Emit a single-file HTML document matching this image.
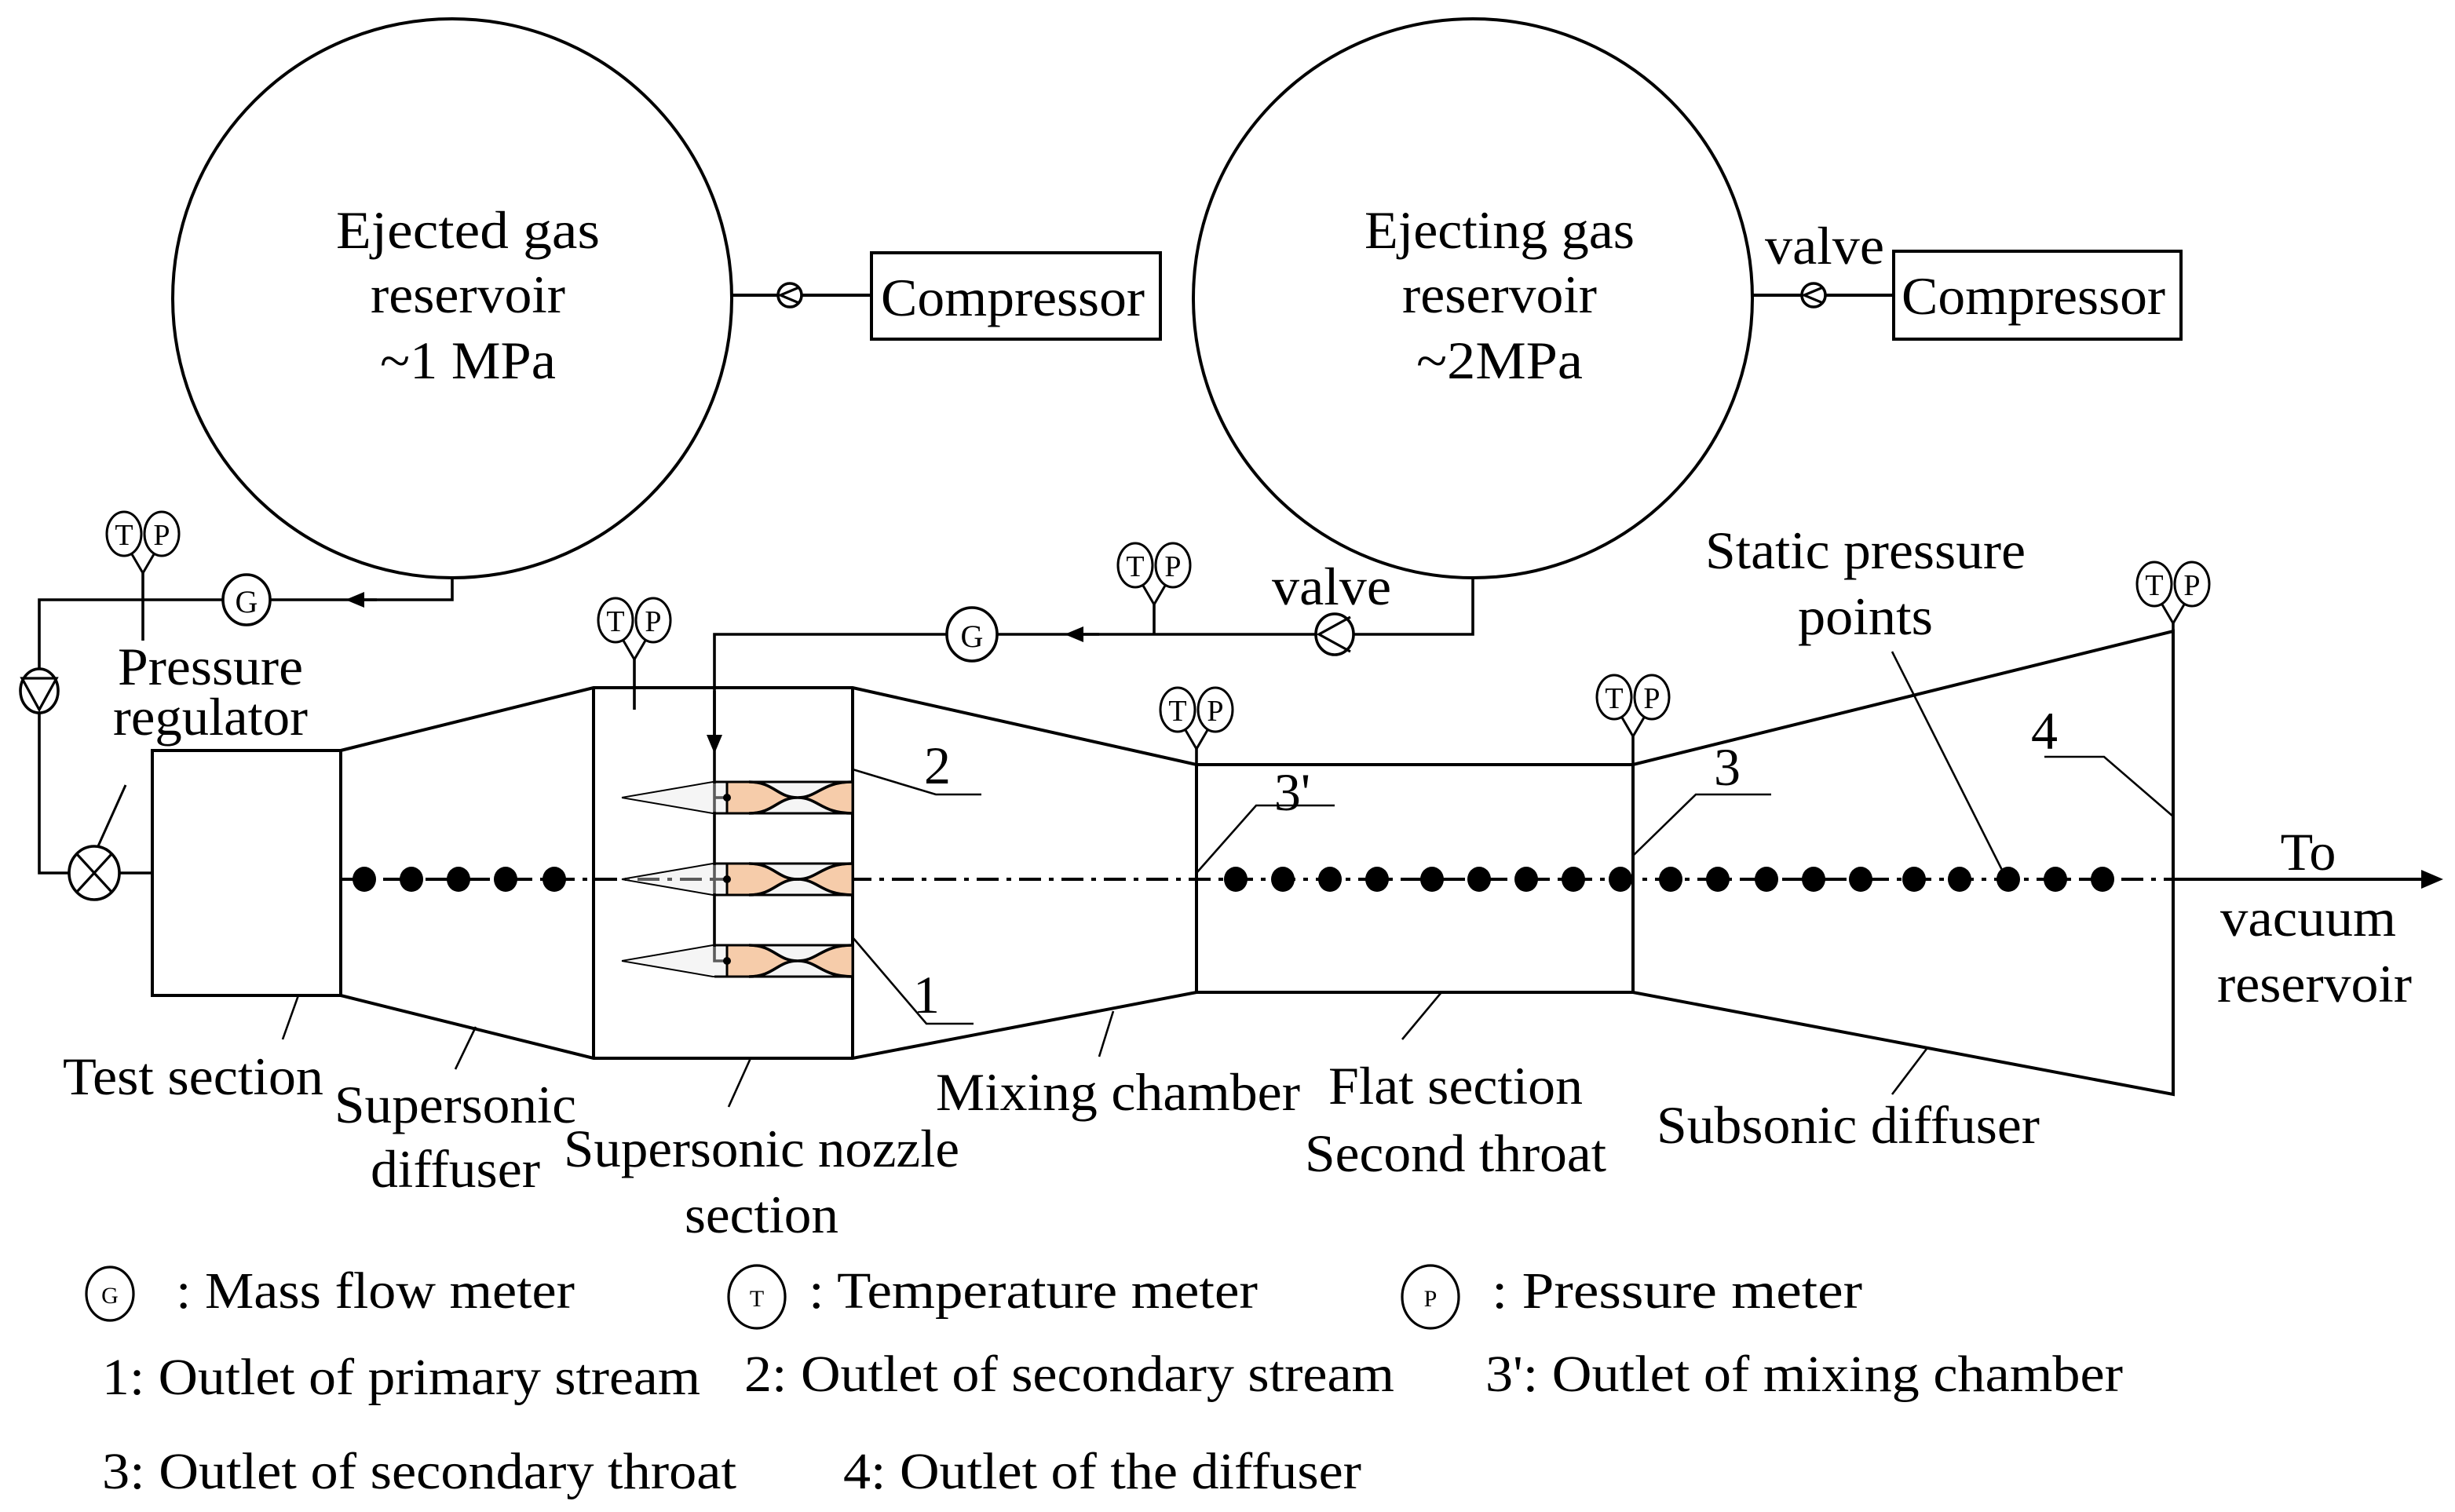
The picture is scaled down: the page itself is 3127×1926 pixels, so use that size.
<!DOCTYPE html>
<html><head><meta charset="utf-8"><style>
html,body{margin:0;padding:0;background:#fff}
svg{display:block}
text{font-family:"Liberation Serif",serif;fill:#000}
</style></head><body>
<svg width="3127" height="1926" viewBox="0 0 1563.5 963" xmlns="http://www.w3.org/2000/svg">
<defs>
<marker id="al" markerWidth="12" markerHeight="12" refX="6" refY="5" orient="auto" markerUnits="userSpaceOnUse"><path d="M12,5 L0,0 L0,10 z" fill="#000"/></marker>
<g id="tp"><ellipse cx="-12" cy="0" rx="11" ry="14" fill="#fff" stroke="#000" stroke-width="1.5"/><ellipse cx="12" cy="0" rx="11" ry="14" fill="#fff" stroke="#000" stroke-width="1.5"/><text x="-12" y="7" font-size="19" text-anchor="middle">T</text><text x="12" y="7" font-size="19" text-anchor="middle">P</text><path d="M-7,13 L0,25 L7,13" fill="none" stroke="#000" stroke-width="1.5"/></g>
<g id="nz">
<path d="M-67,0 L-9,-10 L0,-10 M-67,0 L-9,10 L0,10" fill="none" stroke="#000" stroke-width="1"/>
<path d="M-65,0 L-9,-9 L80,-9 L80,9 L-9,9 Z" fill="#e6e6e6" opacity="0.4"/>
<path d="M0,-10 L14,-10 C30,-10 32,0 45,0 C58,0 60,-10 80,-10 L80,10 C60,10 58,0 45,0 C32,0 30,10 14,10 L0,10 Z" fill="#f6ccaa" stroke="#000" stroke-width="1.5"/>
<path d="M14,-10 C30,-10 32,0 45,0 C58,0 60,-10 80,-10 M14,10 C30,10 32,0 45,0 C58,0 60,10 80,10" fill="none" stroke="#000" stroke-width="1.8"/>
<path d="M-8,-10 L80,-10 M-8,10 L80,10" stroke="#000" stroke-width="1.5"/>
<circle cx="0" cy="0" r="2.5" fill="#000"/>
</g>
</defs>
<g fill="none" stroke="#000" stroke-width="2">
<circle cx="288" cy="190" r="178"/>
<circle cx="938" cy="190" r="178"/>
<line x1="466" y1="188" x2="555" y2="188"/>
<rect x="555" y="161" width="184" height="55"/>
<line x1="1116" y1="188" x2="1206" y2="188"/>
<rect x="1206" y="160" width="183" height="56"/>
<polyline points="288,368 288,382 25,382 25,556 97,556" stroke-width="1.8"/>
<line x1="240" y1="382" x2="226" y2="382" marker-end="url(#al)" stroke-width="1.8"/>
<line x1="91" y1="365" x2="91" y2="408" stroke-width="1.8"/>
<line x1="62" y1="540" x2="80" y2="500" stroke-width="1.5"/>
<polyline points="938,368 938,404 455,404 455,612 462,612" stroke-width="1.8"/>
<line x1="700" y1="404" x2="684" y2="404" marker-end="url(#al)" stroke-width="1.8"/>
<line x1="455" y1="440" x2="455" y2="474" marker-end="url(#al)" stroke-width="1.8"/>
<line x1="735" y1="385" x2="735" y2="404" stroke-width="1.8"/>
<line x1="455" y1="508" x2="462" y2="508" stroke-width="1.8"/>
<line x1="455" y1="560" x2="462" y2="560" stroke-width="1.8"/>
<rect x="97" y="478" width="120" height="156"/>
<polyline points="217,478 378,438 543,438 762,487 1040,487 1384,402 1384,697 1040,632 762,632 543,674 378,674 217,634"/>
<line x1="378" y1="438" x2="378" y2="674"/>
<line x1="543" y1="438" x2="543" y2="674"/>
<line x1="762" y1="487" x2="762" y2="632"/>
<line x1="1040" y1="487" x2="1040" y2="632"/>
<line x1="404" y1="420" x2="404" y2="452" stroke-width="1.8"/>
<line x1="762" y1="477" x2="762" y2="497" stroke-width="1.8"/>
<line x1="1040" y1="469" x2="1040" y2="487" stroke-width="1.8"/>
<line x1="1384" y1="397" x2="1384" y2="402" stroke-width="1.8"/>
</g>
<line x1="217" y1="560" x2="1545" y2="560" stroke="#000" stroke-width="2" stroke-dasharray="14,5,3,5"/>
<line x1="1384" y1="560" x2="1545" y2="560" stroke="#000" stroke-width="2"/>
<path d="M1556,560 L1542,554 L1542,566 Z" fill="#000"/>
<use href="#nz" x="463" y="508"/>
<use href="#nz" x="463" y="560"/>
<use href="#nz" x="463" y="612"/>
<g fill="#000">
<ellipse cx="232" cy="560" rx="7.5" ry="8"/><ellipse cx="262" cy="560" rx="7.5" ry="8"/><ellipse cx="292" cy="560" rx="7.5" ry="8"/><ellipse cx="322" cy="560" rx="7.5" ry="8"/><ellipse cx="353" cy="560" rx="7.5" ry="8"/>
<ellipse cx="787" cy="560" rx="7.5" ry="8"/><ellipse cx="817" cy="560" rx="7.5" ry="8"/><ellipse cx="847" cy="560" rx="7.5" ry="8"/><ellipse cx="877" cy="560" rx="7.5" ry="8"/><ellipse cx="912" cy="560" rx="7.5" ry="8"/><ellipse cx="942" cy="560" rx="7.5" ry="8"/><ellipse cx="972" cy="560" rx="7.5" ry="8"/><ellipse cx="1002" cy="560" rx="7.5" ry="8"/><ellipse cx="1032" cy="560" rx="7.5" ry="8"/><ellipse cx="1064" cy="560" rx="7.5" ry="8"/><ellipse cx="1094" cy="560" rx="7.5" ry="8"/><ellipse cx="1125" cy="560" rx="7.5" ry="8"/><ellipse cx="1155" cy="560" rx="7.5" ry="8"/><ellipse cx="1185" cy="560" rx="7.5" ry="8"/><ellipse cx="1219" cy="560" rx="7.5" ry="8"/><ellipse cx="1248" cy="560" rx="7.5" ry="8"/><ellipse cx="1279" cy="560" rx="7.5" ry="8"/><ellipse cx="1309" cy="560" rx="7.5" ry="8"/><ellipse cx="1339" cy="560" rx="7.5" ry="8"/>
</g>
<g fill="#fff" stroke="#000" stroke-width="1.8">
<ellipse cx="157" cy="382" rx="15" ry="16"/>
<ellipse cx="619" cy="404" rx="16" ry="17"/>
<ellipse cx="25" cy="440" rx="12" ry="14"/>
<ellipse cx="60" cy="556" rx="16" ry="17"/>
<circle cx="503" cy="188" r="7.5"/>
<circle cx="1155" cy="188" r="7.5"/>
<ellipse cx="850" cy="404" rx="12" ry="13"/>
</g>
<g fill="none" stroke="#000" stroke-width="1.6">
<path d="M14,432 L36,432 L25,452 Z"/>
<path d="M49,544 L71,568 M71,544 L49,568"/>
<path d="M509,183 L497,188 L509,193"/>
<path d="M1161,183 L1149,188 L1161,193"/>
<path d="M860,393 L840,404 L860,415"/>
</g>
<text x="157" y="390" font-size="20" text-anchor="middle">G</text>
<text x="619" y="412" font-size="20" text-anchor="middle">G</text>
<use href="#tp" x="91" y="340"/>
<use href="#tp" x="735" y="360"/>
<use href="#tp" x="404" y="395"/>
<use href="#tp" x="762" y="452"/>
<use href="#tp" x="1040" y="444"/>
<use href="#tp" x="1384" y="372"/>
<g fill="none" stroke="#000" stroke-width="1.3">
<polyline points="543,490 596,506 625,506"/>
<polyline points="543,597 590,652 620,652"/>
<polyline points="762,556 800,513 850,513"/>
<polyline points="1040,545 1080,506 1128,506"/>
<polyline points="1384,520 1340,482 1302,482"/>
<line x1="1205" y1="415" x2="1278" y2="560"/>
<line x1="190" y1="634" x2="180" y2="662"/>
<line x1="303" y1="654" x2="290" y2="681"/>
<line x1="478" y1="674" x2="464" y2="705"/>
<line x1="709" y1="644" x2="700" y2="673"/>
<line x1="918" y1="632" x2="893" y2="662"/>
<line x1="1227" y1="668" x2="1205" y2="697"/>
</g>
<g font-size="34" text-anchor="middle" lengthAdjust="spacingAndGlyphs">
<text x="298" y="158" textLength="168" lengthAdjust="spacingAndGlyphs">Ejected  gas</text>
<text x="298" y="199" textLength="124" lengthAdjust="spacingAndGlyphs">reservoir</text>
<text x="298" y="241" textLength="112" lengthAdjust="spacingAndGlyphs">~1 MPa</text>
<text x="955" y="158" textLength="172" lengthAdjust="spacingAndGlyphs">Ejecting gas</text>
<text x="955" y="199" textLength="124" lengthAdjust="spacingAndGlyphs">reservoir</text>
<text x="955" y="241" textLength="106" lengthAdjust="spacingAndGlyphs">~2MPa</text>
<text x="645" y="201" textLength="168" lengthAdjust="spacingAndGlyphs">Compressor</text>
<text x="1295" y="200" textLength="168" lengthAdjust="spacingAndGlyphs">Compressor</text>
<text x="1162" y="168" textLength="76" lengthAdjust="spacingAndGlyphs">valve</text>
<text x="848" y="385" textLength="76" lengthAdjust="spacingAndGlyphs">valve</text>
<text x="134" y="436" textLength="118" lengthAdjust="spacingAndGlyphs">Pressure</text>
<text x="134" y="468" textLength="124" lengthAdjust="spacingAndGlyphs">regulator</text>
<text x="1188" y="362" textLength="204" lengthAdjust="spacingAndGlyphs">Static pressure</text>
<text x="1188" y="404" textLength="86" lengthAdjust="spacingAndGlyphs">points</text>
<text x="597" y="499">2</text>
<text x="590" y="645">1</text>
<text x="823" y="516">3'</text>
<text x="1100" y="500">3</text>
<text x="1302" y="477">4</text>
<text x="1470" y="554">To</text>
<text x="1470" y="596" textLength="112" lengthAdjust="spacingAndGlyphs">vacuum</text>
<text x="1474" y="638" textLength="124" lengthAdjust="spacingAndGlyphs">reservoir</text>
<text x="123" y="697" textLength="166" lengthAdjust="spacingAndGlyphs">Test section</text>
<text x="290" y="715" textLength="154" lengthAdjust="spacingAndGlyphs">Supersonic</text>
<text x="290" y="756" textLength="108" lengthAdjust="spacingAndGlyphs">diffuser</text>
<text x="485" y="743" textLength="252" lengthAdjust="spacingAndGlyphs">Supersonic nozzle</text>
<text x="485" y="785" textLength="98" lengthAdjust="spacingAndGlyphs">section</text>
<text x="712" y="707" textLength="232" lengthAdjust="spacingAndGlyphs">Mixing chamber</text>
<text x="927" y="703" textLength="162" lengthAdjust="spacingAndGlyphs">Flat section</text>
<text x="927" y="746" textLength="192" lengthAdjust="spacingAndGlyphs">Second throat</text>
<text x="1177" y="728" textLength="244" lengthAdjust="spacingAndGlyphs">Subsonic diffuser</text>
</g>
<g fill="#fff" stroke="#000" stroke-width="1.6">
<ellipse cx="70" cy="824" rx="15" ry="17"/>
<ellipse cx="482" cy="826" rx="18" ry="20"/>
<ellipse cx="911" cy="826" rx="18" ry="20"/>
</g>
<g font-size="15" text-anchor="middle"><text x="70" y="830">G</text><text x="482" y="832">T</text><text x="911" y="832">P</text></g>
<g font-size="33">
<text x="112" y="833" textLength="254" lengthAdjust="spacingAndGlyphs">: Mass flow meter</text>
<text x="515" y="833" textLength="286" lengthAdjust="spacingAndGlyphs">: Temperature meter</text>
<text x="950" y="833" textLength="236" lengthAdjust="spacingAndGlyphs">: Pressure  meter</text>
<text x="65" y="888" textLength="381" lengthAdjust="spacingAndGlyphs">1: Outlet of primary stream</text>
<text x="474" y="886" textLength="414" lengthAdjust="spacingAndGlyphs">2: Outlet of secondary stream</text>
<text x="946" y="886" textLength="406" lengthAdjust="spacingAndGlyphs">3': Outlet of mixing chamber</text>
<text x="65" y="948" textLength="404" lengthAdjust="spacingAndGlyphs">3: Outlet of secondary throat</text>
<text x="537" y="948" textLength="330" lengthAdjust="spacingAndGlyphs">4: Outlet of the diffuser</text>
</g>
</svg>
</body></html>
